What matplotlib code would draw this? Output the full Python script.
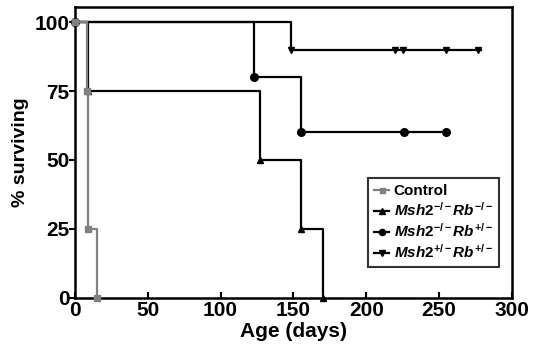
import matplotlib
matplotlib.use("Agg")
import matplotlib.pyplot as plt

# survival data (days, % surviving)
control_days = [0, 8, 9, 15]
control_surv = [100, 75, 25, 0]

msh2_rb_ko_days = [0, 9, 127, 155, 170]
msh2_rb_ko_surv = [100, 75, 50, 25, 0]

msh2_ko_rb_het_days = [0, 123, 155, 226, 255]
msh2_ko_rb_het_surv = [100, 80, 60, 60, 60]

msh2_het_rb_het_days = [0, 148, 220, 225, 255, 277]
msh2_het_rb_het_surv = [100, 90, 90, 90, 90, 90]

labels = [
    "Control",
    r"$\mathit{Msh2}^{-/-}\mathit{Rb}^{-/-}$",
    r"$\mathit{Msh2}^{-/-}\mathit{Rb}^{+/-}$",
    r"$\mathit{Msh2}^{+/-}\mathit{Rb}^{+/-}$",
]

plt.rcParams["font.family"] = ["Liberation Sans", "DejaVu Sans"]
plt.rcParams["font.weight"] = "bold"
plt.rcParams["mathtext.fontset"] = "custom"
plt.rcParams["mathtext.rm"] = "Liberation Sans:bold"
plt.rcParams["mathtext.it"] = "Liberation Sans:italic:bold"
plt.rcParams["mathtext.bf"] = "Liberation Sans:bold"

fig = plt.figure(figsize=(5.35, 3.58), dpi=100)
ax = fig.add_axes([0.140, 0.168, 0.817, 0.812])

lw = 1.6
ax.step(msh2_rb_ko_days, msh2_rb_ko_surv, where="post", color="black", lw=lw,
        marker="^", ms=5, clip_on=False, label=labels[1], zorder=3)
ax.step(msh2_ko_rb_het_days, msh2_ko_rb_het_surv, where="post", color="black", lw=lw,
        marker="o", ms=5.5, clip_on=False, label=labels[2], zorder=3)
ax.step(msh2_het_rb_het_days + [279], msh2_het_rb_het_surv + [90], where="post",
        color="black", lw=lw, marker="v", ms=5, markevery=list(range(len(msh2_het_rb_het_days))),
        clip_on=False, label=labels[3], zorder=3)
ax.step(control_days, control_surv, where="post", color="#808080", lw=lw,
        marker="s", ms=4.5, clip_on=False, label=labels[0], zorder=4)

ax.set_xlim(0, 300)
ax.set_ylim(0, 105.4)
ax.set_xticks([0, 50, 100, 150, 200, 250, 300])
ax.set_yticks([0, 25, 50, 75, 100])

for s in ax.spines.values():
    s.set_linewidth(1.8)
ax.tick_params(axis="x", direction="in", length=4, width=1.5, pad=2, labelsize=15)
ax.tick_params(axis="y", direction="out", length=4, width=1.5, pad=0, labelsize=15)

ax.set_xlabel("Age (days)", fontsize=15, fontweight="bold", labelpad=2)
ax.set_ylabel("% surviving", fontsize=14, fontweight="bold", labelpad=4)

handles, labs = ax.get_legend_handles_labels()
order = [3, 0, 1, 2]
leg = ax.legend([handles[i] for i in order], [labs[i] for i in order],
                loc="upper left", bbox_to_anchor=(0.67, 0.412), borderaxespad=0,
                fancybox=False, edgecolor="black", handlelength=1.0,
                handletextpad=0.3, labelspacing=0.2, borderpad=0.4, markerscale=0.8,
                prop={"weight": "bold", "size": 11})
leg.get_frame().set_linewidth(1.5)

fig.savefig("out.png", dpi=100)
